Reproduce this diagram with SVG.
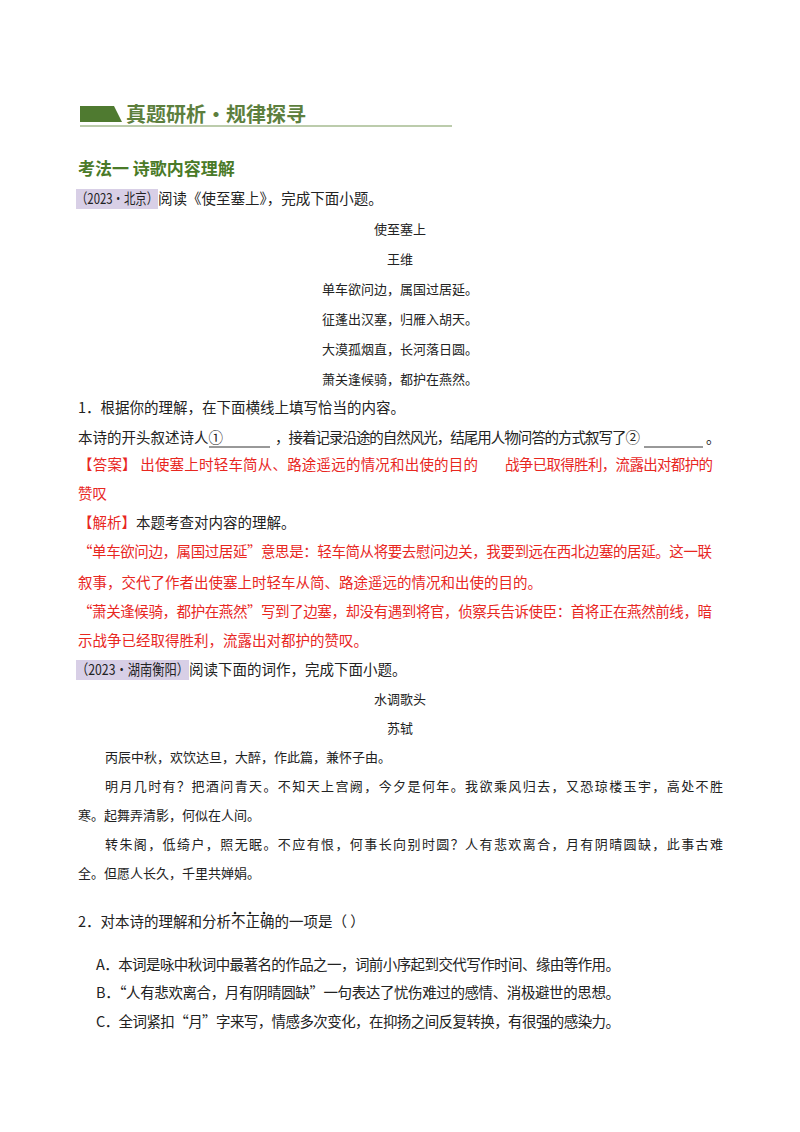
<svg xmlns="http://www.w3.org/2000/svg" width="800" height="1132" viewBox="0 0 800 1132">
<style>
text{font-family:"Noto Sans CJK SC","Liberation Sans",sans-serif;font-size:14.5px;fill:#222}
.p{font-size:13px;text-anchor:middle}
.r{fill:#e8271f}
.s{font-size:13px}
</style>
<rect width="800" height="1132" fill="#fff"/>
<polygon points="80,106 114,106 122,122 80,122" fill="#4f7a30"/>
<text x="126" y="122" style="font-size:20px;font-weight:bold;fill:#5d7f3e">真题研析·规律探寻</text>
<line x1="80" y1="126" x2="452" y2="126" stroke="#7a9a5a" stroke-width="1.2"/>
<text x="78" y="175" style="font-size:17px;font-weight:bold;fill:#4a7a28">考法一  诗歌内容理解</text>
<rect x="76" y="189" width="82" height="20" fill="#d8cfe6"/>
<text x="76" y="204"><tspan textLength="82" lengthAdjust="spacingAndGlyphs">（2023·北京）</tspan>阅读《使至塞上》，完成下面小题。</text>
<text class="p" x="400" y="234">使至塞上</text>
<text class="p" x="400" y="264">王维</text>
<text class="p" x="400" y="294">单车欲问边，属国过居延。</text>
<text class="p" x="400" y="324">征蓬出汉塞，归雁入胡天。</text>
<text class="p" x="400" y="354">大漠孤烟直，长河落日圆。</text>
<text class="p" x="400" y="384">萧关逢候骑，都护在燕然。</text>
<text x="78" y="413">1．根据你的理解，在下面横线上填写恰当的内容。</text>
<text x="78" y="443">本诗的开头叙述诗人①</text>
<line x1="209" y1="447" x2="270" y2="447" stroke="#333"/>
<text x="275" y="443" textLength="365">，接着记录沿途的自然风光，结尾用人物问答的方式叙写了②</text>
<line x1="644" y1="447" x2="703" y2="447" stroke="#333"/>
<text x="706" y="443">。</text>
<text class="r" x="78" y="470" textLength="400">【答案】 出使塞上时轻车简从、路途遥远的情况和出使的目的</text>
<text class="r" x="505" y="470" textLength="208">战争已取得胜利，流露出对都护的</text>
<text class="r" x="78" y="499">赞叹</text>
<text class="r" x="78" y="528">【解析】<tspan fill="#222">本题考查对内容的理解。</tspan></text>
<text class="r" x="78" y="557" textLength="634">“单车欲问边，属国过居延”意思是：轻车简从将要去慰问边关，我要到远在西北边塞的居延。这一联</text>
<text class="r" x="78" y="588">叙事，交代了作者出使塞上时轻车从简、路途遥远的情况和出使的目的。</text>
<text class="r" x="78" y="617" textLength="634">“萧关逢候骑，都护在燕然”写到了边塞，却没有遇到将官，侦察兵告诉使臣：首将正在燕然前线，暗</text>
<text class="r" x="78" y="646">示战争已经取得胜利，流露出对都护的赞叹。</text>
<rect x="76" y="660" width="113" height="20" fill="#d8cfe6"/>
<text x="76" y="675"><tspan textLength="113" lengthAdjust="spacingAndGlyphs">（2023·湖南衡阳）</tspan>阅读下面的词作，完成下面小题。</text>
<text class="p" x="400" y="704">水调歌头</text>
<text class="p" x="400" y="733">苏轼</text>
<text class="s" x="105" y="762">丙辰中秋，欢饮达旦，大醉，作此篇，兼怀子由。</text>
<text class="s" x="105" y="791" textLength="618">明月几时有？把酒问青天。不知天上宫阙，今夕是何年。我欲乘风归去，又恐琼楼玉宇，高处不胜</text>
<text class="s" x="78" y="820">寒。起舞弄清影，何似在人间。</text>
<text class="s" x="105" y="849" textLength="618">转朱阁，低绮户，照无眠。不应有恨，何事长向别时圆？人有悲欢离合，月有阴晴圆缺，此事古难</text>
<text class="s" x="78" y="878">全。但愿人长久，千里共婵娟。</text>
<text x="78" y="927">2．对本诗的理解和分析不正确的一项是（    ）</text>
<circle cx="235" cy="913" r="1.3" fill="#222"/>
<circle cx="250" cy="913" r="1.3" fill="#222"/>
<circle cx="264" cy="913" r="1.3" fill="#222"/>
<text x="96" y="970" textLength="524">A．本词是咏中秋词中最著名的作品之一，词前小序起到交代写作时间、缘由等作用。</text>
<text x="96" y="998" textLength="524">B．“人有悲欢离合，月有阴晴圆缺”一句表达了忧伤难过的感情、消极避世的思想。</text>
<text x="96" y="1027" textLength="524">C．全词紧扣“月”字来写，情感多次变化，在抑扬之间反复转换，有很强的感染力。</text>
</svg>
